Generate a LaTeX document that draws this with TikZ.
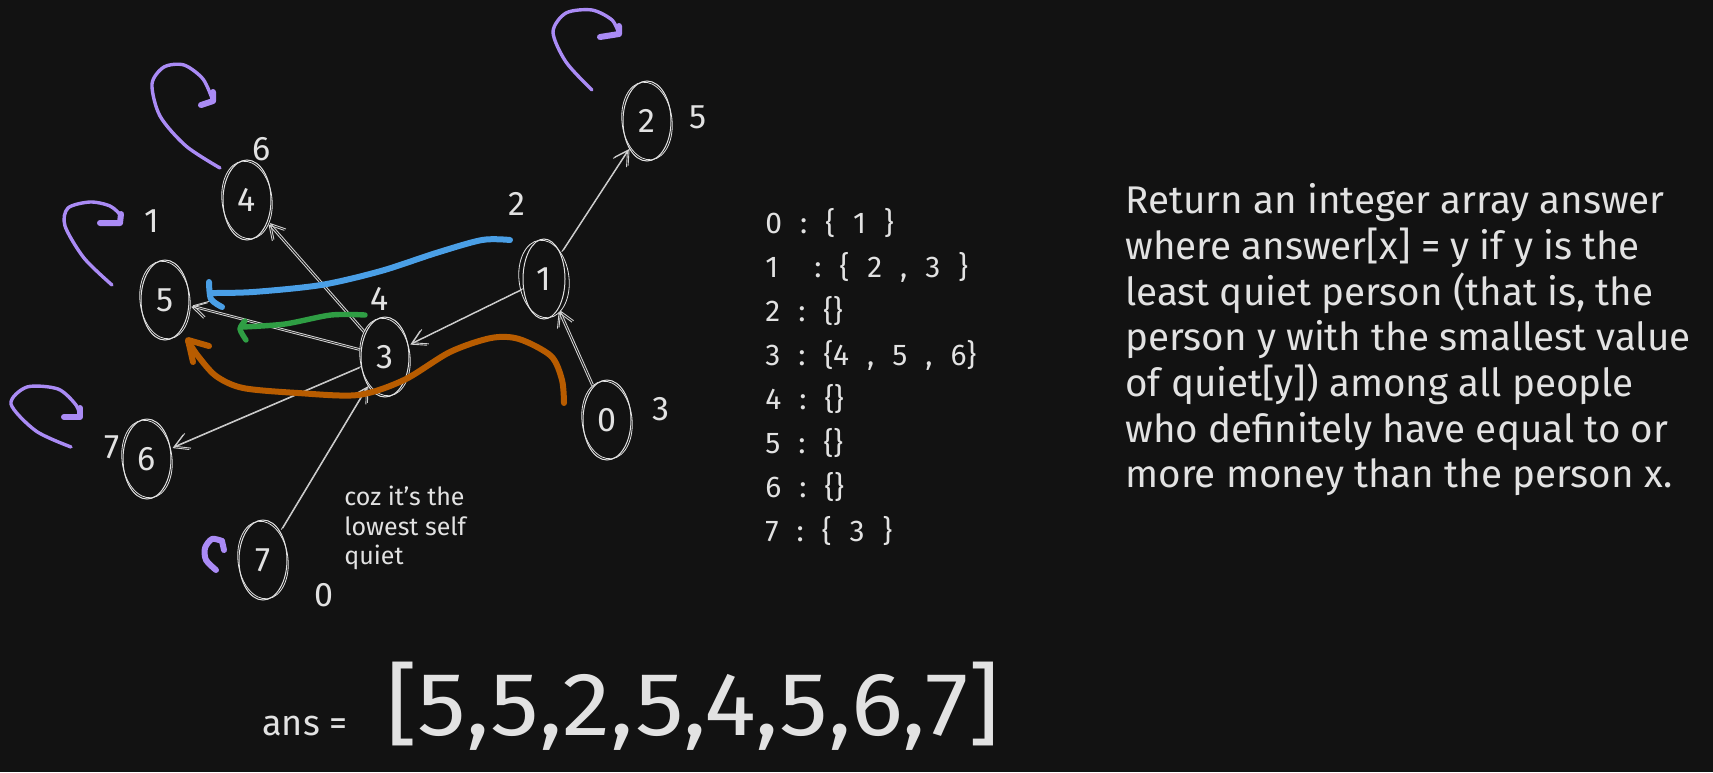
\documentclass[tikz,border=0pt]{standalone}
\usepackage{fontspec}
\setmainfont{Fira Sans}
\usetikzlibrary{arrows.meta,shapes.geometric}
\definecolor{bg}{HTML}{121212}
\definecolor{ink}{HTML}{E2E2E2}
\definecolor{edgec}{HTML}{CFCFCF}
\definecolor{purp}{HTML}{AA8BF5}
\definecolor{bluec}{HTML}{4A9FE6}
\definecolor{greenc}{HTML}{2F9E44}
\definecolor{orangec}{HTML}{B85C00}
\newcommand\gp{\hspace{9pt}}
\begin{document}
\begin{tikzpicture}[x=0.5pt,y=-0.5pt,
  vtx/.style={ellipse, draw=ink, line width=0.5pt, minimum width=24pt, minimum height=40pt, inner sep=0pt, text=ink, font=\fontsize{17}{17}\selectfont},
  lbl/.style={text=ink, font=\fontsize{17}{17}\selectfont, inner sep=0pt},
  edge/.style={draw=edgec, line width=0.45pt, shorten >=1pt, shorten <=1pt, -{Straight Barb[length=7pt,width=8pt]}},
  loopc/.style={draw=purp, line width=1.7pt, line cap=round, line join=round},
  marker/.style={line width=3pt, line cap=round, line join=round},
  desc/.style={text=ink, anchor=base west, inner sep=0pt, font=\fontsize{19.3}{19.3}\selectfont},
  lst/.style={text=ink, anchor=base west, inner sep=0pt, font=\fontsize{15}{15}\selectfont},
  note/.style={text=ink, anchor=base west, inner sep=0pt, font=\fontsize{12.5}{12.5}\selectfont}]
\fill[bg] (0,0) rectangle (1713,772);
\useasboundingbox (0,0) rectangle (1713,772);

% vertices
\node[vtx] (n2) at (647,121) {2};
\node[vtx] (n4) at (247,200) {4};
\node[vtx] (n5) at (165,300) {5};
\node[vtx, minimum width=21pt] (n1) at (544,279) {1};
\node[vtx] (n3) at (385,357) {3};
\node[vtx] (n0) at (607,420) {0};
\node[vtx] (n6) at (147,459) {6};
\node[vtx] (n7) at (263,560) {7};
\foreach \n in {n0,n1,n2,n3,n4,n5,n6,n7}
  \draw[ink, line width=0.4pt, rotate around={7:(\n.center)}] (\n.center) ellipse [x radius=12.5pt, y radius=19.5pt];

% quiet labels
\node[lbl] (l2) at (698,117) {5};
\node[lbl] (l4) at (262,149) {6};
\node[lbl] (l5) at (152,221) {1};
\node[lbl] (l1) at (517,204) {2};
\node[lbl] (l3) at (380,299) {4};
\node[lbl] (l0) at (661,409) {3};
\node[lbl] (l6) at (112,447) {7};
\node[lbl] (l7) at (324,595) {0};

% edges
\foreach \a/\b in {n0/n1,n1/n2,n1/n3,n3/n4,n3/n5,n3/n6,n7/n3}{
  \draw[edge] (\a) -- (\b);
  \draw[edge, transform canvas={shift={(0.8pt,0.7pt)}}] (\a) -- (\b);
}

% purple self loops
\draw[loopc] plot[smooth] coordinates {(592,90) (566,62) (553,32) (566,13) (592,10) (612,20) (619,34)} -- (600,37);
\draw[loopc, line width=3pt] (619,26) -- (619,34) -- (600,37);
\draw[loopc] plot[smooth] coordinates {(220,168) (186,146) (160,116) (152,84) (164,67) (184,65) (203,79) (213,101)} -- (201,105);
\draw[loopc, line width=3pt] (213,92) -- (213,101) -- (201,105);
\draw[loopc] plot[smooth] coordinates {(112,285) (84,258) (65,226) (68,208) (90,202) (110,206) (121,216) (120,223)} -- (100,223);
\draw[loopc, line width=3pt] (121,214) -- (120,223) -- (100,223);
\draw[loopc] plot[smooth] coordinates {(71,447) (36,431) (11,404) (27,387) (58,389) (76,405) (80,417)} -- (64,417);
\draw[loopc, line width=3pt] (80,408) -- (80,417) -- (64,417);
\draw[loopc, line width=3pt] plot[smooth] coordinates {(216,570) (206,560) (205,548) (212,539) (222,541)};
\draw[loopc, line width=3pt] (222,541) -- (224,550);

% coloured marker strokes
\draw[marker, draw=bluec] plot[smooth] coordinates {(510,240) (482,240) (436,253) (381,271) (321,285) (253,292) (210,293)};
\draw[marker, draw=bluec] plot[smooth] coordinates {(209,282) (211,299) (222,307)};
\draw[marker, draw=greenc, line width=2.7pt] plot[smooth] coordinates {(365,315) (331,315) (285,324) (243,327)};
\draw[marker, draw=greenc, line width=2.7pt] plot[smooth] coordinates {(245,321) (240,329) (246,340)};
\draw[marker, draw=orangec] plot[smooth] coordinates {(564,403) (562,380) (551,356) (519,339) (491,338) (450,352) (404,380) (358,395) (298,393) (243,388) (216,376) (198,356) (188,341)};
\draw[marker, draw=orangec] (209,346) -- (188,340) -- (193,362);

% note
\node[note] (c1) at (344,505) {coz it's the};
\node[note] (c2) at (344,535) {lowest self};
\node[note] (c3) at (344,564) {quiet};

% adjacency list
\node[lst] (a0) at (765,233) {0\gp:\gp\{\gp1\gp\}};
\node[lst] (a1) at (765,277) {1\gp\gp:\gp\{\gp2\gp,\gp3\gp\}};
\node[lst] (a2) at (765,321) {2\gp:\gp\{\}};
\node[lst] (a3) at (765,365) {3\gp:\gp\{4\gp,\gp5\gp,\gp6\}};
\node[lst] (a4) at (765,409) {4\gp:\gp\{\}};
\node[lst] (a5) at (765,453) {5\gp:\gp\{\}};
\node[lst] (a6) at (765,497) {6\gp:\gp\{\}};
\node[lst] (a7) at (765,541) {7\gp:\gp\{\gp3\gp\}};

% description
\node[desc] (d1) at (1125,213) {Return an integer array answer};
\node[desc] (d2) at (1125,259) {where answer[x] = y if y is the};
\node[desc] (d3) at (1125,305) {least quiet person (that is, the};
\node[desc] (d4) at (1125,350) {person y with the smallest value};
\node[desc] (d5) at (1125,396) {of quiet[y]) among all people};
\node[desc] (d6) at (1125,442) {who definitely have equal to or};
\node[desc] (d7) at (1125,487) {more money than the person x.};

% answer
\node[text=ink, anchor=base west, inner sep=0pt, font=\fontsize{18}{18}\selectfont] (ansl) at (262,735) {ans =};
\node[text=ink, anchor=base west, inner sep=0pt, font=\fontsize{45}{45}\selectfont] (ansv) at (386,735) {\scalebox{1.08}[1]{[5,5,2,5,4,5,6,7]}};
\end{tikzpicture}
\end{document}
